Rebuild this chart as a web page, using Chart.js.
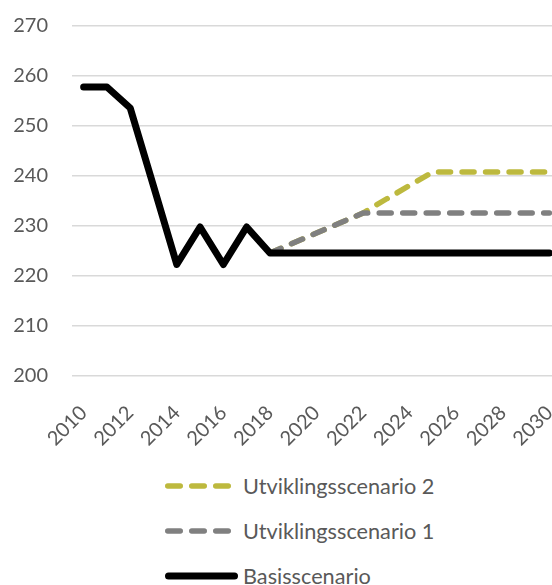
<!DOCTYPE html>
<html>
<head>
<meta charset="utf-8">
<script src="https://cdn.jsdelivr.net/npm/chart.js@4"></script>
<style>
  html, body { margin: 0; padding: 0; background: #fff; overflow: hidden; width: 552px; height: 585px; }
  #wrap { position: absolute; left: 0; top: 0; width: 561px; height: 465px; }
  #legend { position: absolute; left: 165px; top: 0; font-family: Lato, "Liberation Sans", sans-serif; font-size: 21.7px; color: #595959; }
  .item { position: absolute; left: 0; height: 24px; display: flex; align-items: center; white-space: nowrap; }
  .item svg { display: block; width: 78px; height: 12px; }
</style>
</head>
<body>
<div id="wrap"><canvas id="chart"></canvas></div>
<div id="legend"></div>
<script>
// år på x-aksen
const years = [
    2010, 2011, 2012, 2013, 2014, 2015, 2016, 2017, 2018, 2019, 2020,
    2021, 2022, 2023, 2024, 2025, 2026, 2027, 2028, 2029, 2030
];

const basisscenario = [
    257.8, 257.8, 253.6, 238, 222.3, 229.8, 222.3, 229.8, 224.6, 224.6, 224.6,
    224.6, 224.6, 224.6, 224.6, 224.6, 224.6, 224.6, 224.6, 224.6, 224.6
];

const utvikling1 = [
    null, null, null, null, null, null, null, null, 224.6, 226.6, 228.6,
    230.6, 232.6, 232.6, 232.6, 232.6, 232.6, 232.6, 232.6, 232.6, 232.6
];

const utvikling2 = [
    null, null, null, null, null, null, null, null, 224.6, 226.6, 228.6,
    230.6, 232.6, 235.4, 238.1, 240.8, 240.8, 240.8, 240.8, 240.8, 240.8
];

const yTicks = [200, 210, 220, 230, 240, 250, 260, 270];

const colors = {
    basis: '#000000',
    utv1: '#808080',
    utv2: '#bdb93e'
};

const ctx = document.getElementById('chart').getContext('2d');

const data = {
    labels: years,
    datasets: [
        {
            label: 'Basisscenario',
            data: basisscenario,
            borderColor: colors.basis,
            borderWidth: 7,
            borderCapStyle: 'round',
            borderJoinStyle: 'round',
            pointRadius: 0,
            tension: 0
        },
        {
            label: 'Utviklingsscenario 1',
            data: utvikling1,
            borderColor: colors.utv1,
            borderWidth: 5.5,
            borderDash: [12, 11.5],
            borderCapStyle: 'round',
            pointRadius: 0,
            tension: 0
        },
        {
            label: 'Utviklingsscenario 2',
            data: utvikling2,
            borderColor: colors.utv2,
            borderWidth: 5.5,
            borderDash: [12, 11.5],
            borderCapStyle: 'round',
            pointRadius: 0,
            tension: 0
        }
    ]
};

// fjern ekstra padding som Chart.js legger til rundt aksene
function noPadding(scale) {
    scale.paddingTop = 0;
    scale.paddingBottom = 0;
    scale.paddingLeft = 0;
    scale.paddingRight = 0;
}

const chart = new Chart(ctx, {
    type: 'line',
    data: data,
    options: {
        responsive: true,
        maintainAspectRatio: false,
        animation: false,
        layout: { padding: { top: 26, right: 0, left: 0, bottom: 0 } },
        plugins: {
            legend: { display: false },
            tooltip: { enabled: false }
        },
        scales: {
            x: {
                offset: true,
                grid: { display: false, drawTicks: false },
                border: { display: false },
                afterFit: (scale) => { scale.height = 89; noPadding(scale); },
                ticks: {
                    autoSkip: false,
                    minRotation: 45,
                    maxRotation: 45,
                    padding: 25,
                    color: '#595959',
                    font: { family: 'Lato', size: 20 },
                    callback: function (value, index) {
                        const y = years[index];
                        return y % 2 === 0 ? String(y) : '';
                    }
                }
            },
            y: {
                min: yTicks[0],
                max: yTicks[yTicks.length - 1],
                afterFit: (scale) => { scale.width = 72; noPadding(scale); },
                afterBuildTicks: (scale) => { scale.ticks = yTicks.map(v => ({ value: v })); },
                grid: { color: '#d9d9d9', lineWidth: 1.5, drawTicks: false },
                border: { display: false },
                ticks: {
                    padding: 24,
                    color: '#595959',
                    font: { family: 'Lato', size: 20 }
                }
            }
        }
    }
});

// legenden: omvendt rekkefølge, én per linje
const legendRows = [
    { ds: 2, top: 474 },
    { ds: 1, top: 519 },
    { ds: 0, top: 564 }
];
const legendEl = document.getElementById('legend');
legendRows.forEach(row => {
    const ds = data.datasets[row.ds];
    const div = document.createElement('div');
    div.className = 'item';
    div.style.top = row.top + 'px';
    let line;
    if (ds.borderDash) {
        line = `<line x1="2.75" y1="6" x2="63.5" y2="6" stroke="${ds.borderColor}" stroke-width="${ds.borderWidth}" stroke-linecap="round" stroke-dasharray="12.5 11.5"/>`;
    } else {
        line = `<line x1="3.5" y1="6" x2="69.5" y2="6" stroke="${ds.borderColor}" stroke-width="${ds.borderWidth}" stroke-linecap="round"/>`;
    }
    div.innerHTML = `<svg viewBox="0 0 78 12">${line}</svg><span>${ds.label}</span>`;
    legendEl.appendChild(div);
});
</script>
</body>
</html>
